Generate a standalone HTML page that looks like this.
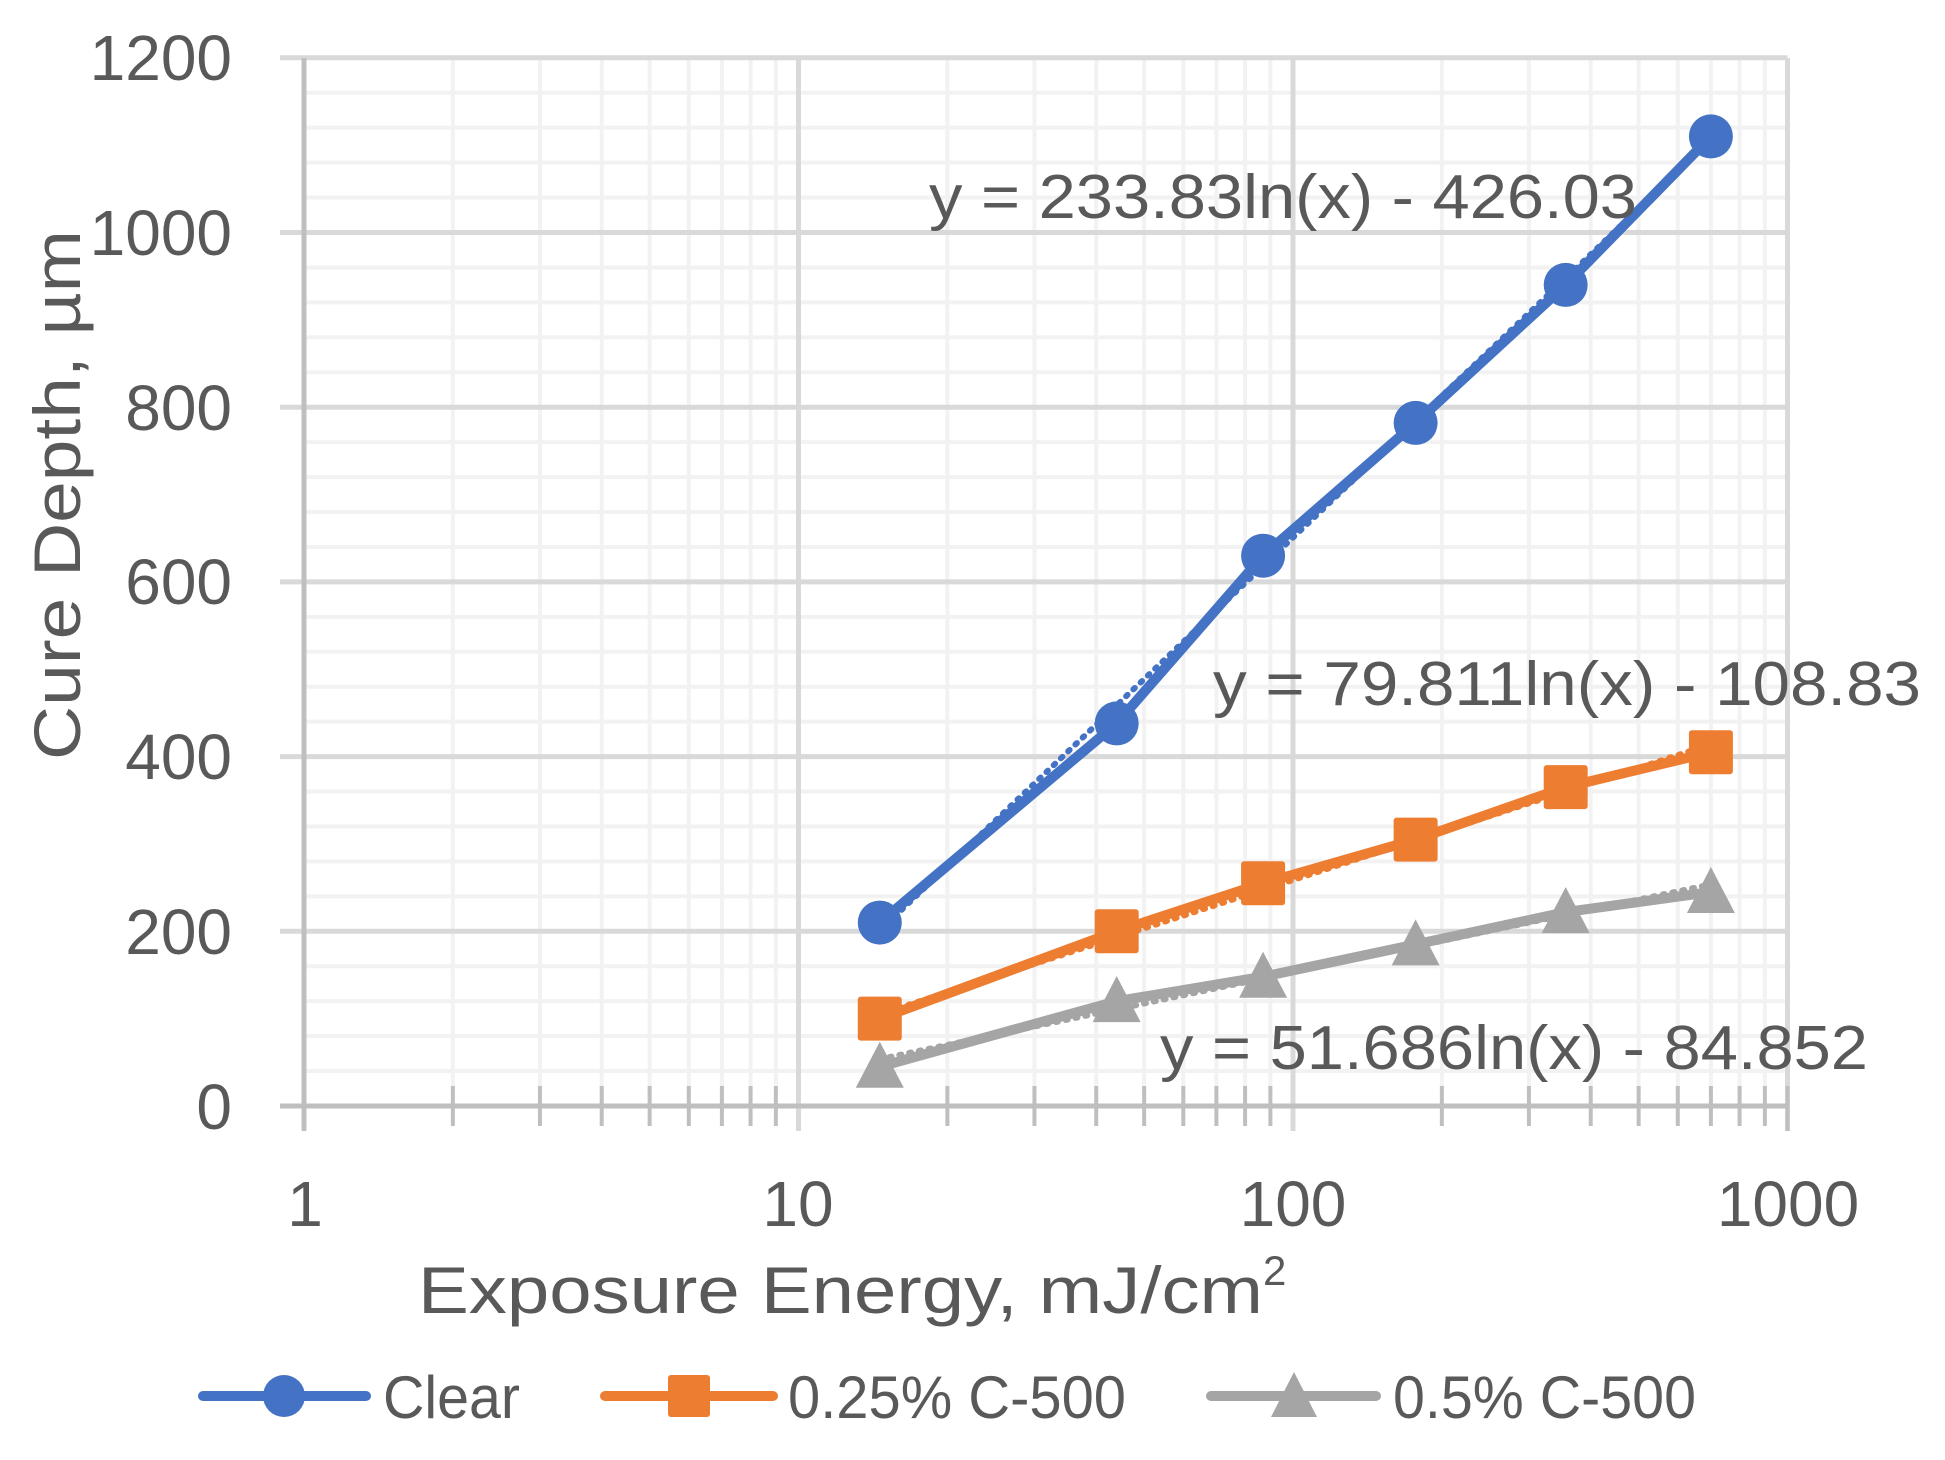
<!DOCTYPE html>
<html><head><meta charset="utf-8"><style>html,body{margin:0;padding:0;background:#fff}svg{display:block}</style></head>
<body>
<svg width="1945" height="1460" viewBox="0 0 1945 1460" xmlns="http://www.w3.org/2000/svg" font-family="Liberation Sans, sans-serif" fill="#595959">
<g id="grid"></g>
<g id="data"></g>
<g font-size="64" text-anchor="end">
<text x="232" y="80">1200</text><text x="232" y="255">1000</text><text x="232" y="430">800</text><text x="232" y="604">600</text><text x="232" y="779">400</text><text x="232" y="954">200</text><text x="232" y="1129">0</text>
</g>
<g font-size="64" text-anchor="middle">
<text x="305" y="1226">1</text><text x="798" y="1226">10</text><text x="1293" y="1226">100</text><text x="1788" y="1226">1000</text>
</g>
<text x="418" y="1313" font-size="66" textLength="845" lengthAdjust="spacingAndGlyphs">Exposure Energy, mJ/cm</text>
<text x="1263" y="1285" font-size="42">2</text>
<text transform="translate(80,760) rotate(-90)" font-size="66" textLength="530" lengthAdjust="spacingAndGlyphs">Cure Depth, µm</text>
<g font-size="62">
<text x="929" y="218" textLength="708" lengthAdjust="spacingAndGlyphs">y = 233.83ln(x) - 426.03</text>
<text x="1213" y="705" textLength="708" lengthAdjust="spacingAndGlyphs">y = 79.811ln(x) - 108.83</text>
<text x="1160" y="1069" textLength="708" lengthAdjust="spacingAndGlyphs">y = 51.686ln(x) - 84.852</text>
</g>
<g font-size="60">
<line x1="203" y1="1396" x2="366" y2="1396" stroke="#4472C4" stroke-width="10" stroke-linecap="round"/>
<circle cx="284" cy="1396" r="21" fill="#4472C4"/>
<text x="383" y="1418" textLength="137" lengthAdjust="spacingAndGlyphs">Clear</text>
<line x1="605" y1="1396" x2="773" y2="1396" stroke="#ED7D31" stroke-width="10" stroke-linecap="round"/>
<rect x="668" y="1375" width="42" height="42" rx="3" fill="#ED7D31"/>
<text x="788" y="1418" textLength="338" lengthAdjust="spacingAndGlyphs">0.25% C-500</text>
<line x1="1211" y1="1396" x2="1376" y2="1396" stroke="#A5A5A5" stroke-width="10" stroke-linecap="round"/>
<polygon points="1294,1372 1317,1417 1271,1417" fill="#A5A5A5"/>
<text x="1393" y="1418" textLength="303" lengthAdjust="spacingAndGlyphs">0.5% C-500</text>
</g>
</svg>
<script>
(function(){
var NS="http://www.w3.org/2000/svg";
var X0=304,D=494.5,Y0=1106,S=174.7/200,YT=58;
var XR=X0+3*D;
function px(v){return X0+Math.log10(v)*D}
function py(v){return Y0-v*S}
function el(p,n,a){var e=document.createElementNS(NS,n);for(var k in a)e.setAttribute(k,a[k]);p.appendChild(e);return e}
var g=document.getElementById("grid");
for(var v=0;v<1200;v+=40){if(v%200)el(g,"line",{x1:X0,x2:XR,y1:py(v),y2:py(v),stroke:"#F2F2F2","stroke-width":4})}
for(var d=0;d<3;d++)for(var m=2;m<=9;m++){var x=px(m*Math.pow(10,d));el(g,"line",{x1:x,x2:x,y1:YT,y2:Y0,stroke:"#F2F2F2","stroke-width":4});el(g,"line",{x1:x,x2:x,y1:Y0-20,y2:Y0+20,stroke:"#BFBFBF","stroke-width":4})}
for(var v=200;v<=1200;v+=200)el(g,"line",{x1:280,x2:XR,y1:py(v),y2:py(v),stroke:"#D9D9D9","stroke-width":5});
for(var d=1;d<=3;d++){var x=px(Math.pow(10,d));el(g,"line",{x1:x,x2:x,y1:YT,y2:Y0+25,stroke:"#D9D9D9","stroke-width":5})}
el(g,"line",{x1:X0,x2:X0,y1:YT,y2:Y0+25,stroke:"#BFBFBF","stroke-width":5});
el(g,"line",{x1:280,x2:XR,y1:Y0,y2:Y0,stroke:"#BFBFBF","stroke-width":5});
el(g,"line",{x1:XR,x2:XR,y1:Y0-20,y2:Y0+25,stroke:"#BFBFBF","stroke-width":4});
var xs=[14.6,44,87,177,356,700];
var S3=[{c:"#4472C4",y:[210,438,630,782,940,1110],m:"c",a:233.83,b:-426.03},
{c:"#ED7D31",y:[100,200,255,305,365,405],m:"s",a:79.811,b:-108.83},
{c:"#A5A5A5",y:[45,120,148,185,222,245],m:"t",a:51.686,b:-84.852}];
var dg=document.getElementById("data");
S3.forEach(function(s){
 var pts=[];for(var x=14.6;x<=700;x*=1.05)pts.push(px(x)+","+py(s.a*Math.log(x)+s.b));
 el(dg,"polyline",{points:pts.join(" "),fill:"none",stroke:s.c,"stroke-width":6,"stroke-dasharray":"2 8","stroke-linecap":"round"});
 el(dg,"polyline",{points:xs.map(function(x,i){return px(x)+","+py(s.y[i])}).join(" "),fill:"none",stroke:s.c,"stroke-width":10,"stroke-linejoin":"round","stroke-linecap":"round"});
 xs.forEach(function(x,i){var cx=px(x),cy=py(s.y[i]);
  if(s.m=="c")el(dg,"circle",{cx:cx,cy:cy,r:22,fill:s.c});
  else if(s.m=="s")el(dg,"rect",{x:cx-22,y:cy-22,width:44,height:44,rx:3,fill:s.c});
  else el(dg,"polygon",{points:(cx)+","+(cy-25)+" "+(cx+24)+","+(cy+21)+" "+(cx-24)+","+(cy+21),fill:s.c});
 });
});
})();
</script>
</body></html>
